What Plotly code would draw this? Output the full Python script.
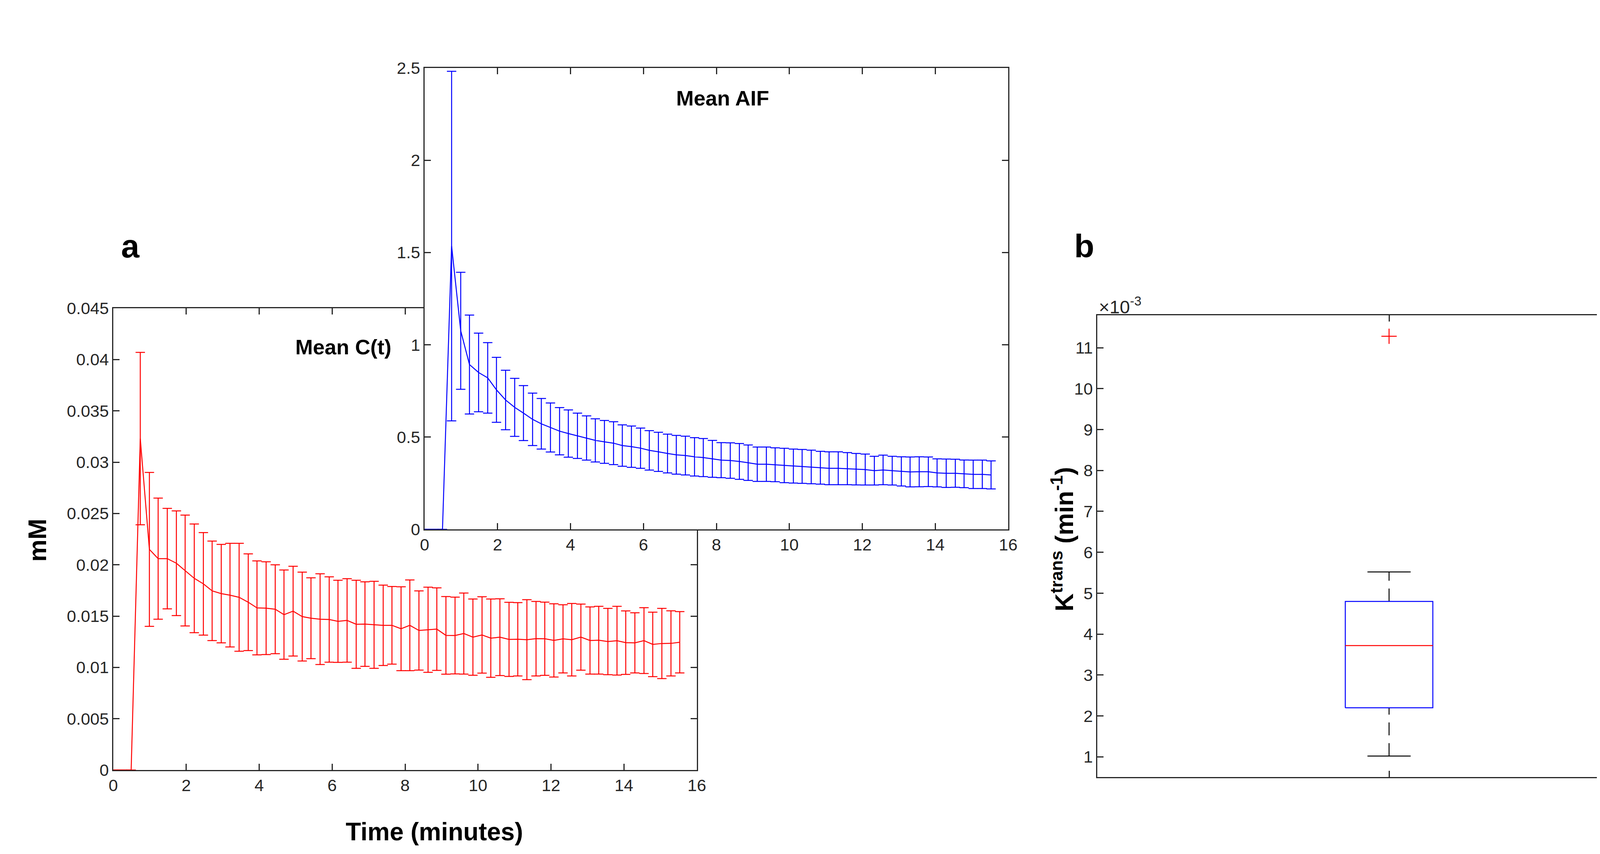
import plotly.graph_objects as go

W, H = 4475, 2186
FONT = "Liberation Sans, Arial, sans-serif"
AX = "#262626"

# acquisition times (minutes)
time_min = [0.0, 0.25, 0.49, 0.74, 0.99, 1.23, 1.48, 1.73, 1.97, 2.22, 2.47, 2.71, 2.96, 3.2,
            3.45, 3.7, 3.94, 4.19, 4.44, 4.68, 4.93, 5.18, 5.42, 5.67, 5.92, 6.16, 6.41, 6.66,
            6.9, 7.15, 7.4, 7.64, 7.89, 8.13, 8.38, 8.63, 8.87, 9.12, 9.37, 9.61, 9.86, 10.11,
            10.35, 10.6, 10.85, 11.09, 11.34, 11.59, 11.83, 12.08, 12.33, 12.57, 12.82, 13.07,
            13.31, 13.56, 13.81, 14.05, 14.3, 14.55, 14.79, 15.04, 15.29, 15.53]

# mean tissue concentration C(t) (mM) and its SD
ct_mean = [0, 0, 0, 0.0323, 0.0215, 0.0206, 0.0206, 0.02015, 0.01944, 0.01868, 0.01814, 0.01746,
           0.01719, 0.01704, 0.01683, 0.01635, 0.0158, 0.01577, 0.01567, 0.01514, 0.01548,
           0.01495, 0.01479, 0.0147, 0.01467, 0.01449, 0.01458, 0.0142, 0.01422, 0.01415,
           0.0141, 0.0141, 0.01377, 0.0141, 0.0136, 0.01367, 0.01373, 0.01312, 0.01311, 0.0133,
           0.01295, 0.01316, 0.01285, 0.01294, 0.01273, 0.01274, 0.0127, 0.0128, 0.01279,
           0.01263, 0.01278, 0.0127, 0.01295, 0.01262, 0.01265, 0.01252, 0.0126, 0.01241,
           0.01239, 0.01261, 0.01224, 0.01233, 0.01234, 0.01245]
ct_sd = [0, 0, 0, 0.0084, 0.0075, 0.0059, 0.0049, 0.0051, 0.0054, 0.0053, 0.005, 0.00485, 0.0048,
         0.00505, 0.00526, 0.00471, 0.00458, 0.00452, 0.00433, 0.00435, 0.00437, 0.00433,
         0.00394, 0.00442, 0.00416, 0.004, 0.00407, 0.00429, 0.00412, 0.00424, 0.00392, 0.00378,
         0.00409, 0.00442, 0.00386, 0.00415, 0.00402, 0.00378, 0.00374, 0.00395, 0.00372,
         0.00372, 0.00382, 0.00374, 0.00361, 0.00357, 0.0039, 0.00363, 0.00357, 0.00357,
         0.00332, 0.00353, 0.00322, 0.00327, 0.0033, 0.00323, 0.00335, 0.00309, 0.00293,
         0.00321, 0.00314, 0.00342, 0.00317, 0.00299]

# mean arterial input function (mM) and its SD
aif_mean = [0, 0, 0, 1.535, 1.076, 0.893, 0.85, 0.821, 0.756, 0.701, 0.661, 0.63, 0.596, 0.572,
            0.552, 0.532, 0.519, 0.507, 0.495, 0.482, 0.474, 0.467, 0.454, 0.448, 0.44, 0.428,
            0.42, 0.411, 0.404, 0.4, 0.393, 0.389, 0.382, 0.375, 0.373, 0.368, 0.361, 0.353,
            0.353, 0.35, 0.346, 0.343, 0.341, 0.338, 0.334, 0.331, 0.331, 0.329, 0.326, 0.324,
            0.318, 0.322, 0.318, 0.314, 0.311, 0.312, 0.312, 0.306, 0.304, 0.304, 0.301, 0.298,
            0.298, 0.295]
aif_sd = [0, 0, 0, 0.947, 0.317, 0.268, 0.213, 0.191, 0.176, 0.161, 0.157, 0.149, 0.142, 0.137,
          0.133, 0.128, 0.128, 0.123, 0.12, 0.117, 0.116, 0.116, 0.112, 0.112, 0.109, 0.107,
          0.106, 0.105, 0.105, 0.105, 0.104, 0.103, 0.1, 0.095, 0.096, 0.097, 0.096, 0.093,
          0.093, 0.092, 0.093, 0.092, 0.092, 0.091, 0.089, 0.089, 0.089, 0.087, 0.085, 0.084,
          0.078, 0.08, 0.078, 0.079, 0.081, 0.081, 0.08, 0.076, 0.077, 0.076, 0.075, 0.077,
          0.077, 0.076]

# Ktrans box plot summary (x1e-3 min^-1)
kt_group = 1
kt_q1 = 2.20
kt_median = 3.72
kt_q3 = 4.80
kt_whisker_lo = 1.02
kt_whisker_hi = 5.52
kt_outliers = [11.28]
kt_box_half = 0.075
kt_cap_half = 0.037


def fx(px):
    return px / W


def fy(py):
    return 1 - py / H


fig = go.Figure()

fig.add_trace(go.Scatter(
    x=time_min, y=ct_mean, mode="lines", line=dict(color="red", width=2.5),
    error_y=dict(type="data", array=ct_sd, color="red", thickness=2.5, width=12),
    xaxis="x", yaxis="y", showlegend=False))

fig.add_trace(go.Scatter(
    x=time_min, y=aif_mean, mode="lines", line=dict(color="blue", width=2.5),
    error_y=dict(type="data", array=aif_sd, color="blue", thickness=2.5, width=12),
    xaxis="x2", yaxis="y2", showlegend=False))

# box plot built from its summary values
g = kt_group
fig.add_trace(go.Scatter(
    x=[g, g], y=[kt_q3, kt_whisker_hi], mode="lines",
    line=dict(color="black", width=2.5, dash="33px,20px"), xaxis="x3", yaxis="y3", showlegend=False))
fig.add_trace(go.Scatter(
    x=[g, g], y=[kt_whisker_lo, kt_q1], mode="lines",
    line=dict(color="black", width=2.5, dash="33px,20px"), xaxis="x3", yaxis="y3", showlegend=False))
for v in [kt_whisker_lo, kt_whisker_hi]:
    fig.add_trace(go.Scatter(
        x=[g - kt_cap_half, g + kt_cap_half], y=[v, v], mode="lines",
        line=dict(color="black", width=2.5), xaxis="x3", yaxis="y3", showlegend=False))
fig.add_trace(go.Scatter(
    x=[g - kt_box_half, g + kt_box_half, g + kt_box_half, g - kt_box_half, g - kt_box_half],
    y=[kt_q1, kt_q1, kt_q3, kt_q3, kt_q1], mode="lines",
    line=dict(color="blue", width=2.5), xaxis="x3", yaxis="y3", showlegend=False))
fig.add_trace(go.Scatter(
    x=[g - kt_box_half, g + kt_box_half], y=[kt_median, kt_median], mode="lines",
    line=dict(color="red", width=2.5), xaxis="x3", yaxis="y3", showlegend=False))
fig.add_trace(go.Scatter(
    x=[g] * len(kt_outliers), y=kt_outliers, mode="markers",
    marker=dict(symbol="cross-thin", size=28, line=dict(color="red", width=2.5)),
    xaxis="x3", yaxis="y3", showlegend=False))


def frame(**kw):
    d = dict(showline=True, linecolor=AX, linewidth=2.5, mirror="ticks", ticks="inside",
             ticklen=16, tickwidth=2.5, tickcolor=AX, showgrid=False, zeroline=False,
             tickfont=dict(family=FONT, size=43, color=AX))
    d.update(kw)
    return d


fig.update_layout(
    width=W, height=H, margin=dict(l=0, r=0, t=0, b=0),
    template="none", paper_bgcolor="white", plot_bgcolor="white",
    xaxis=frame(domain=[fx(282), fx(1776)], anchor="y", range=[0, 16], dtick=2, tick0=0),
    yaxis=frame(domain=[fy(1963), fy(781)], anchor="x", range=[0, 0.045], dtick=0.005, tick0=0),
    xaxis2=frame(domain=[fx(1079), fx(2573)], anchor="y2", range=[0, 16], dtick=2, tick0=0),
    yaxis2=frame(domain=[fy(1347), fy(166)], anchor="x2", range=[0, 2.5], dtick=0.5, tick0=0),
    xaxis3=frame(domain=[fx(2801), fx(4295)], anchor="y3", range=[0.5, 1.5],
                 tickvals=[1], showticklabels=False),
    yaxis3=frame(domain=[fy(1981), fy(799)], anchor="x3", range=[0.507, 11.793],
                 tickvals=list(range(1, 12))),
)


def label(text, x, y, size, bold=True, angle=0, xanchor="center", color="black"):
    fig.add_annotation(
        text=f"<b>{text}</b>" if bold else text, x=fx(x), y=fy(y), xref="paper", yref="paper",
        showarrow=False, xanchor=xanchor, yanchor="middle", textangle=angle,
        font=dict(family=FONT, size=size, color=color))


label("a", 326, 622, 84)
label("b", 2768, 622, 84)
label("Mean C(t)", 871, 880, 54)
label("Mean AIF", 1842, 243, 54)
label("Time (minutes)", 1104, 2121, 64)
label("mM", 88, 1375, 64, angle=-90)
label("K<sup>trans</sup> (min<sup>-1</sup>)", 2712, 1372, 64, angle=-90)
label("\u00d710<sup>-3</sup>", 2803, 774, 47, bold=False, xanchor="left", color=AX)

fig.write_html("out.html")
